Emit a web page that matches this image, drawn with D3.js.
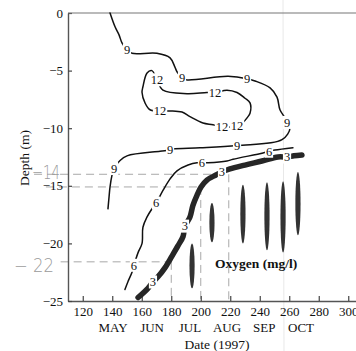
<!DOCTYPE html>
<html><head><meta charset="utf-8">
<script src="https://cdn.jsdelivr.net/npm/d3@7/dist/d3.min.js"></script>
<style>body{margin:0;background:#fff}svg{display:block}</style>
</head><body>
<svg id="c" width="356" height="351"></svg>
<script>
// ---------- data (date = day of year 1997, depth in m) ----------
const xTicks = [120,140,160,180,200,220,240,260,280,300];
const yTicks = [0,-5,-10,-15,-20,-25];
const months = ["MAY","JUN","JUL","AUG","SEP","OCT"];
const monthDates = [140.5,167,192.7,217.8,243,268];

const contour9 = [[138.5,0],[141.9,-1.2],[144.6,-1.9],[146.6,-2.6],[150,-3.2],[153.4,-3.5],[170.3,-3.5],
  [179.2,-3.9],[182.5,-4.7],[183.9,-5.1],[187.3,-5.6],[190,-5.8],[218.5,-5.5],[231.4,-5.7],[236.8,-5.9],
  [247,-6.5],[251.7,-7.3],[253.7,-8.4],[257.1,-9.1],[258.5,-9.5],[260.5,-10],[255.1,-11],[224.6,-11.5],
  [199.5,-11.7],[181.2,-11.8],[179.2,-11.9],[172.4,-12],[150,-12.4],[145.3,-12.8],[141.2,-13.5],
  [139.8,-14.1],[138.5,-15.1],[137.8,-16],[137.1,-17]];
const labels9 = [[150,-3.2],[187.3,-5.6],[231.4,-5.7],[258.5,-9.5],[224.6,-11.5],[179.2,-11.9],[141.2,-13.5]];

const contour12 = [[170.3,-5.8],[174.4,-6.7],[190.7,-7.0],[204.2,-6.9],[209.7,-6.9],[217.8,-6.7],[224.6,-6.9],
  [230,-7.4],[233.4,-7.8],[233.4,-8.7],[231.4,-9.1],[228.6,-9.5],[224.6,-9.8],[214.4,-9.9],[208.3,-9.7],
  [201.5,-9.55],[192.7,-9.0],[187.3,-8.6],[179.2,-8.5],[172.4,-8.5],[165.6,-8.4],[162.2,-7.8],[160.2,-6.9],
  [160.8,-6.4],[163.6,-5.2],[166.9,-5.0],[169,-5.4]];
const labels12 = [[170.3,-5.8],[209.7,-6.9],[224.6,-9.8],[214.4,-9.9],[172.4,-8.5]];

const contour6 = [[262.5,-11.7],[250.3,-11.9],[246.3,-12],[242.2,-12.15],[221.9,-12.7],[217.8,-12.85],
  [204.9,-13.0],[200.8,-13.0],[197.5,-13.0],[191.4,-13.2],[183.9,-13.7],[179.2,-14.4],[174.4,-15.4],
  [169.7,-16.5],[166.9,-17.0],[163.6,-17.7],[160.8,-18.6],[160.2,-20.0],[157.5,-20.8],[154.7,-21.9],
  [153.4,-22.5],[150.7,-23.3],[148.6,-24.0]];
const labels6 = [[246.3,-12],[200.8,-13],[169.7,-16.5],[154.7,-21.9]];

const contour3 = [[157.5,-24.7],[164.2,-23.9],[167.6,-23.35],[171,-22.9],[175.8,-22.1],[180.5,-21.1],
  [184.6,-20.2],[188,-19.4],[189.3,-18.5],[192.7,-17.7],[194.7,-16.7],[197.5,-15.8],[200.2,-15.1],
  [204.2,-14.5],[210.3,-14.06],[214.4,-13.8],[219.8,-13.54],[230,-13.2],[241.5,-12.85],[252.4,-12.5],
  [258.5,-12.5],[263.2,-12.4],[268.6,-12.33]];
const labels3 = [[167.6,-23.35],[189.3,-18.5],[214.4,-13.8],[258.5,-12.5]];

// low-oxygen pockets: [date, top depth, bottom depth]
const pockets = [[194.1,-20.0,-23.9],[207.6,-16.5,-19.9],[228.6,-14.9,-20.0],
  [244.9,-14.7,-20.6],[255.8,-14.6,-20.8],[265.9,-13.8,-19.3]];

// hand-drawn annotations
const annotH = [[-14,87,219],[-15.1,95,200],[-21.6,105,180]];  // depth, from date, to date
const annotV = [[180,-21.6],[200,-15.1],[219,-14]];               // date, from depth (down to bottom)
const annotText = [["\u221214",-14.3],["\u2212 22",-21.9]];

// ---------- drawing ----------
const svg = d3.select("#c");
const serif = "'Liberation Serif','Times New Roman',serif";
const x = d3.scaleLinear().domain([110,310]).range([68,363]);
const y = d3.scaleLinear().domain([0,-25]).range([13,301]);

// faint scan fold
svg.append("line").attr("x1",283).attr("x2",284).attr("y1",0).attr("y2",351)
  .attr("stroke","#e8e8e8").attr("stroke-width",1);

// annotations (pencil)
const ann = svg.append("g").attr("stroke","#a8a8a8").attr("stroke-width",1).attr("stroke-dasharray","8,5").attr("fill","none");
annotH.forEach(([d,a,b])=>ann.append("line").attr("x1",x(a)).attr("x2",x(b)).attr("y1",y(d)).attr("y2",y(d)));
annotV.forEach(([dt,d])=>ann.append("line").attr("x1",x(dt)).attr("x2",x(dt)).attr("y1",y(d)).attr("y2",y(-25)));
svg.append("text").attr("x",32).attr("y",y(annotText[0][1])+1).attr("textLength",28).attr("lengthAdjust","spacingAndGlyphs")
  .attr("font-family","'DejaVu Sans',sans-serif").attr("font-weight",200).attr("font-size",20).attr("fill","#9a9a9a").text(annotText[0][0]);
svg.append("text").attr("x",14).attr("y",y(annotText[1][1])+7).attr("textLength",40).attr("lengthAdjust","spacingAndGlyphs")
  .attr("font-family","'DejaVu Sans',sans-serif").attr("font-weight",200).attr("font-size",19).attr("fill","#9a9a9a").text(annotText[1][0]);

// axes
const gx = svg.append("g").attr("transform",`translate(0,${y(-25)})`)
  .call(d3.axisBottom(x).tickValues(xTicks).tickSizeInner(-5).tickSizeOuter(0).tickPadding(6).tickFormat(d3.format("d")));
const gy = svg.append("g").attr("transform",`translate(${x(110)},0)`)
  .call(d3.axisLeft(y).tickValues(yTicks).tickSizeInner(-4).tickSizeOuter(0).tickPadding(5));
[gx,gy].forEach(g=>{
  g.select(".domain").attr("stroke","#555").attr("stroke-width",1.4);
  g.selectAll(".tick line").attr("stroke","#444").attr("stroke-width",1.2);
  g.selectAll("text").attr("font-family",serif).attr("font-size",13).attr("fill","#111");
});
svg.append("line").attr("x1",x(110)).attr("x2",356).attr("y1",y(0)).attr("y2",y(0)).attr("stroke","#777").attr("stroke-width",1.2);

svg.selectAll(".month").data(months).join("text").attr("class","month")
  .attr("x",(d,i)=>x(monthDates[i])).attr("y",332).attr("text-anchor","middle")
  .attr("font-family",serif).attr("font-size",13).attr("fill","#111").text(d=>d);
svg.append("text").attr("x",217).attr("y",349).attr("text-anchor","middle")
  .attr("font-family",serif).attr("font-size",13.5).attr("fill","#111").text("Date (1997)");
svg.append("text").attr("transform","translate(29,158) rotate(-90)").attr("text-anchor","middle")
  .attr("font-family",serif).attr("font-size",13.5).attr("fill","#111").text("Depth (m)");

// contours
const line = d3.line().x(d=>x(d[0])).y(d=>y(d[1])).curve(d3.curveCatmullRom.alpha(0.5));
const lineClosed = d3.line().x(d=>x(d[0])).y(d=>y(d[1])).curve(d3.curveCatmullRomClosed.alpha(0.5));
const cg = svg.append("g").attr("fill","none").attr("stroke","#111").attr("stroke-linejoin","round").attr("stroke-linecap","round");
cg.append("path").attr("d",line(contour9)).attr("stroke-width",1.5);
cg.append("path").attr("d",lineClosed(contour12)).attr("stroke-width",1.5);
cg.append("path").attr("d",line(contour6)).attr("stroke-width",1.5);
cg.append("path").attr("d",line(contour3)).attr("stroke","#262626").attr("stroke-width",5.5);

svg.selectAll(".pocket").data(pockets).join("ellipse").attr("class","pocket")
  .attr("cx",d=>x(d[0])).attr("cy",d=>(y(d[1])+y(d[2]))/2)
  .attr("rx",2.6).attr("ry",d=>(y(d[2])-y(d[1]))/2).attr("fill","#333");

// contour labels
function addLabels(data,txt){
  const w = txt.length*6.2+2;
  svg.append("g").selectAll("rect").data(data).join("rect")
    .attr("x",d=>x(d[0])-w/2).attr("y",d=>y(d[1])-6.5).attr("width",w).attr("height",13).attr("fill","#fff");
  svg.append("g").selectAll("text").data(data).join("text")
    .attr("x",d=>x(d[0])).attr("y",d=>y(d[1])+4.3).attr("text-anchor","middle")
    .attr("font-family",serif).attr("font-size",12.5).attr("fill","#111").text(txt);
}
addLabels(labels9,"9");
addLabels(labels12,"12");
addLabels(labels6,"6");
addLabels(labels3,"3");

svg.append("text").attr("x",x(209.7)).attr("y",y(-22.1)).attr("font-family",serif).attr("font-weight","bold")
  .attr("font-size",13.5).attr("fill","#111").text("Oxygen (mg/l)");
</script>
</body></html>
